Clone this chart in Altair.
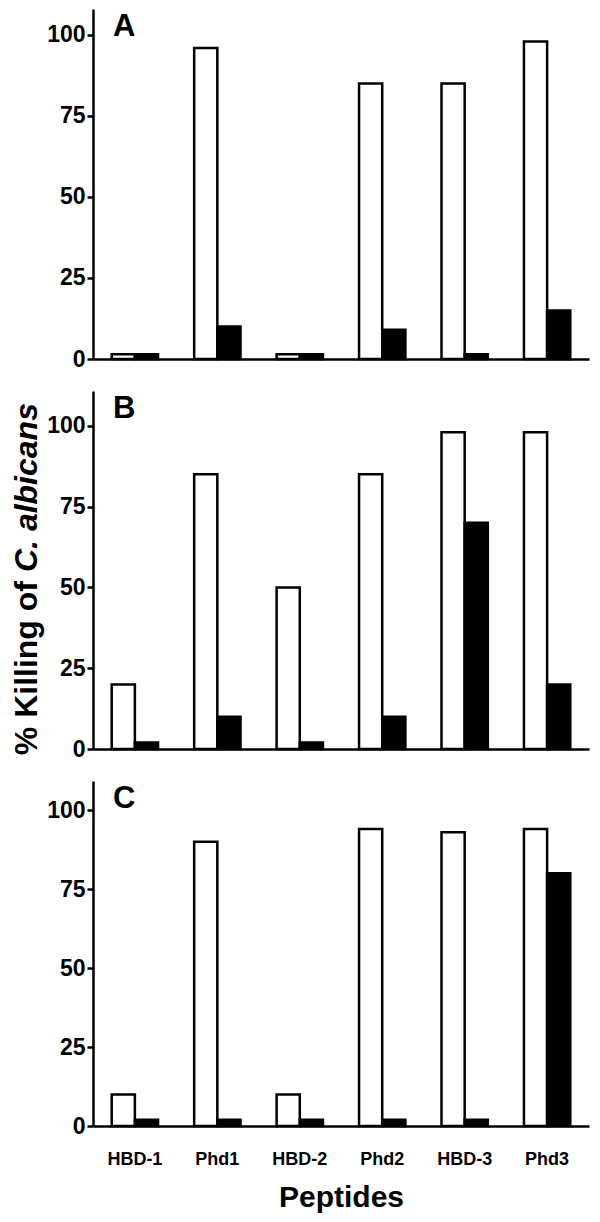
import altair as alt
import pandas as pd

peptides = ["HBD-1", "Phd1", "HBD-2", "Phd2", "HBD-3", "Phd3"]
series = ["open", "filled"]
a_open = [1.5, 96, 1.5, 85, 85, 98]
a_filled = [1.5, 10, 1.5, 9, 1.5, 15]
b_open = [20, 85, 50, 85, 98, 98]
b_filled = [2, 10, 2, 10, 70, 20]
c_open = [10, 90, 10, 94, 93, 94]
c_filled = [2, 2, 2, 2, 2, 80]
panel_labels = ["A", "B", "C"]
y_ticks = [0, 25, 50, 75, 100]
y_title_plain = "% Killing of"
y_title_italic = "C. albicans"
x_title = "Peptides"

FONT = "Liberation Sans"
W = 496


def frame(opn, fil):
    rows = []
    for p, o, f in zip(peptides, opn, fil):
        rows.append({"peptide": p, "series": "open", "value": o})
        rows.append({"peptide": p, "series": "filled", "value": f})
    return pd.DataFrame(rows)


def panel(df, label, height, ymax, show_x, extra=None):
    if show_x:
        x_axis = alt.Axis(labels=True, ticks=False, labelAngle=0, labelFontSize=18,
                          labelPadding=24, title=x_title, titleFontSize=30, titlePadding=14)
    else:
        x_axis = alt.Axis(labels=False, ticks=False, title=None)
    y_axis = alt.Axis(values=y_ticks, tickSize=6, labelFontSize=23, labelPadding=2,
                      title=None, grid=False)
    bars = alt.Chart(df).mark_bar(stroke="black", strokeWidth=2.5).encode(
        x=alt.X("peptide:N", sort=peptides,
                scale=alt.Scale(paddingInner=0.438, paddingOuter=0.227), axis=x_axis),
        xOffset=alt.XOffset("series:N", sort=series,
                            scale=alt.Scale(paddingInner=0, paddingOuter=0)),
        y=alt.Y("value:Q", scale=alt.Scale(domain=[0, ymax], nice=False, zero=True),
                axis=y_axis),
        fill=alt.Fill("series:N", scale=alt.Scale(domain=series, range=["white", "black"]),
                      legend=None),
    )
    letter = alt.Chart(pd.DataFrame({"t": [label]})).mark_text(
        align="left", baseline="top", fontSize=31, fontWeight="bold", font=FONT,
        color="black"
    ).encode(x=alt.value(20), y=alt.value(3), text="t:N")
    layers = [bars, letter]
    if extra:
        layers += extra
    return alt.layer(*layers).properties(width=W, height=height)


t1 = alt.Chart(pd.DataFrame({"t": [y_title_plain]})).mark_text(
    angle=270, align="right", baseline="middle", fontSize=32, fontWeight="bold",
    font=FONT, color="black"
).encode(x=alt.value(-66), y=alt.value(190), text="t:N")
t2 = alt.Chart(pd.DataFrame({"t": [y_title_italic]})).mark_text(
    angle=270, align="left", baseline="middle", fontSize=32, fontWeight="bold",
    fontStyle="italic", font=FONT, color="black"
).encode(x=alt.value(-66), y=alt.value(181), text="t:N")

pa = panel(frame(a_open, a_filled), panel_labels[0], 350, 108, False)
pb = panel(frame(b_open, b_filled), panel_labels[1], 358, 110.8, False, [t1, t2])
pc = panel(frame(c_open, c_filled), panel_labels[2], 345, 109.2, True)

chart = alt.vconcat(pa, pb, pc, spacing=32, bounds="flush").properties(
    padding={"left": 2, "top": 0, "right": 2, "bottom": 2}
).configure_view(stroke="transparent").configure_axis(
    domainColor="black", domainWidth=2.5, tickColor="black", tickWidth=2.5,
    labelColor="black", labelFont=FONT, labelFontWeight="bold",
    titleFont=FONT, titleFontWeight="bold", titleColor="black", grid=False
)

chart.save("out.html", embed_options={"renderer": "svg", "actions": False})
